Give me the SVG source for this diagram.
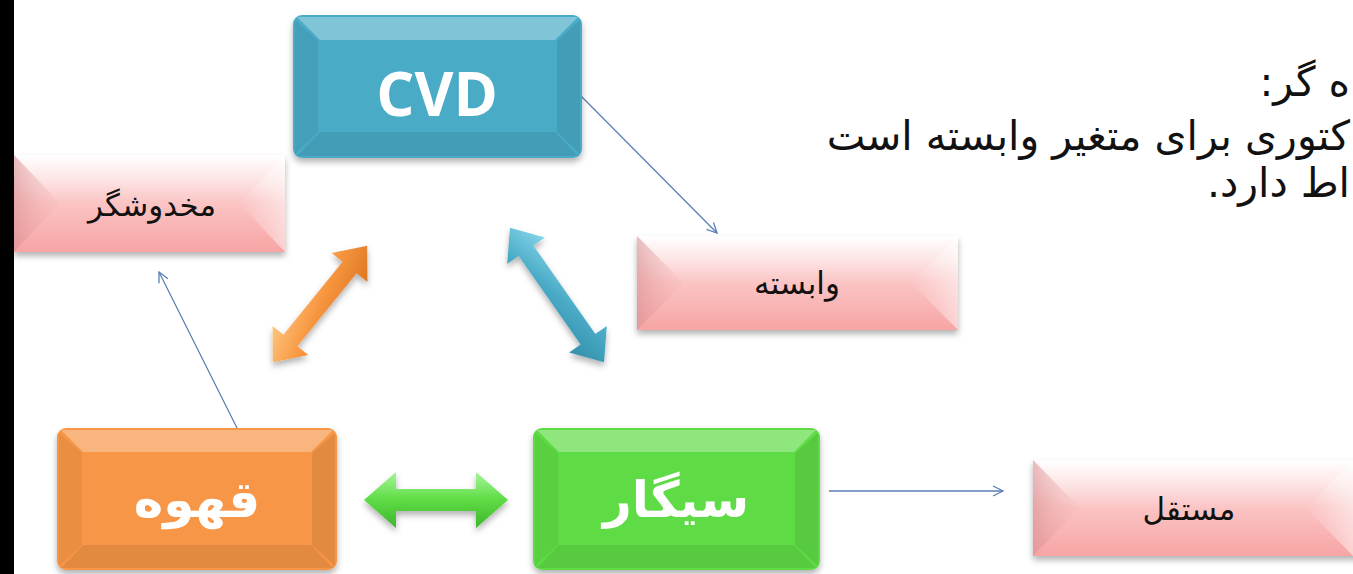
<svg xmlns="http://www.w3.org/2000/svg" width="1353" height="574" viewBox="0 0 1353 574">
<defs>
  <style>
    .pinkTxt{font-family:"DejaVu Sans",sans-serif;font-size:31px;fill:#111;}
    .boldTxt{font-family:"DejaVu Sans",sans-serif;font-size:50px;font-weight:bold;fill:#fff;}
    .cvdTxt{font-family:"Open Sans","Liberation Sans",sans-serif;font-size:60px;font-weight:bold;fill:#fff;}
    .body{font-family:"DejaVu Sans",sans-serif;font-size:41px;fill:#111;}
    .conn{stroke:#5b7fb8;stroke-width:1.3;fill:none;}
  </style>
  <filter id="sh" x="-10%" y="-10%" width="120%" height="130%">
    <feDropShadow dx="0" dy="4" stdDeviation="3" flood-color="#000" flood-opacity="0.3"/>
  </filter>
  <linearGradient id="pinkG" x1="0" y1="0" x2="0" y2="1">
    <stop offset="0" stop-color="#ffffff"/>
    <stop offset="0.25" stop-color="#fde5e5"/>
    <stop offset="0.5" stop-color="#fbc4c4"/>
    <stop offset="1" stop-color="#f7a4a4"/>
  </linearGradient>
  <linearGradient id="pinkL" x1="0" y1="0" x2="1" y2="0">
    <stop offset="0" stop-color="#d98f92" stop-opacity="0.6"/>
    <stop offset="1" stop-color="#f2b0b0" stop-opacity="0.1"/>
  </linearGradient>
  <linearGradient id="pinkR" x1="1" y1="0" x2="0" y2="0">
    <stop offset="0" stop-color="#ffffff" stop-opacity="0.5"/>
    <stop offset="1" stop-color="#ffffff" stop-opacity="0"/>
  </linearGradient>
  <linearGradient id="tealA" x1="0" y1="0" x2="1" y2="1">
    <stop offset="0" stop-color="#8fdcef"/>
    <stop offset="0.5" stop-color="#4aabc6"/>
    <stop offset="1" stop-color="#2f8aa6"/>
  </linearGradient>
  <linearGradient id="orangeA" x1="0" y1="0" x2="1" y2="1">
    <stop offset="0" stop-color="#ffd08c"/>
    <stop offset="0.5" stop-color="#f7963f"/>
    <stop offset="1" stop-color="#d8701e"/>
  </linearGradient>
  <linearGradient id="greenA" x1="0" y1="0" x2="0" y2="1">
    <stop offset="0" stop-color="#a6f59a"/>
    <stop offset="0.5" stop-color="#5edc45"/>
    <stop offset="1" stop-color="#3fb52c"/>
  </linearGradient>
  <marker id="open" viewBox="0 0 12 12" refX="11" refY="6" markerWidth="12" markerHeight="12" markerUnits="userSpaceOnUse" orient="auto">
    <path d="M1,1 L11,6 L1,11" fill="none" stroke="#5b7fb8" stroke-width="1.3"/>
  </marker>
</defs>

<rect x="0" y="0" width="1353" height="574" fill="#ffffff"/>
<rect x="0" y="0" width="14" height="574" fill="#000000"/>

<g id="text-block">
  <text class="body" x="1350" y="96" direction="rtl" text-anchor="start">ه گر:</text>
  <text class="body" x="1350" y="150" direction="rtl" text-anchor="start">کتوری برای متغیر وابسته است</text>
  <text class="body" x="1350" y="197" direction="rtl" text-anchor="start">اط دارد.</text>
</g>

<g id="connectors">
  <line class="conn" x1="580" y1="95" x2="717" y2="233" marker-end="url(#open)"/>
  <line class="conn" x1="238" y1="430" x2="159" y2="272" marker-end="url(#open)"/>
  <line class="conn" x1="829" y1="491" x2="1003" y2="491" marker-end="url(#open)"/>
  <g id="arrow-green" filter="url(#sh)">
    <polygon points="-72,0 -40,-28 -40,-11 40,-11 40,-28 72,0 40,28 40,11 -40,11 -40,28" transform="translate(436,500)" fill="url(#greenA)"/>
  </g>
  <g id="arrow-orange" filter="url(#sh)">
    <polygon points="-75,0 -47,-23 -47,-9 47,-9 47,-23 75,0 47,23 47,9 -47,9 -47,23" transform="translate(320,304) rotate(-51)" fill="url(#orangeA)"/>
  </g>
  <g id="arrow-blue" filter="url(#sh)">
    <polygon points="-82,0 -54,-23 -54,-9 54,-9 54,-23 82,0 54,23 54,9 -54,9 -54,23" transform="translate(557,295) rotate(55)" fill="url(#tealA)"/>
  </g>
</g>

<g id="node-cvd">
  <rect x="293" y="15" width="289" height="143" rx="9" fill="#4aabc6" filter="url(#sh)"/>
  <polygon points="297,17 578,17 555,40 320,40" fill="#ffffff" opacity="0.3"/>
  <polygon points="295,20 318,41 318,132 295,154" fill="#000" opacity="0.06"/>
  <polygon points="580,20 557,41 557,132 580,154" fill="#000" opacity="0.08"/>
  <polygon points="320,132 555,132 578,156 297,156" fill="#000" opacity="0.08"/>
  <text class="cvdTxt" x="437" y="116" text-anchor="middle">CVD</text>
</g>

<g id="node-confounder">
  <rect x="14" y="155" width="271" height="97" fill="url(#pinkG)" filter="url(#sh)"/>
  <polygon points="14,155 60,203 14,252" fill="url(#pinkL)"/>
  <polygon points="285,155 239,203 285,252" fill="url(#pinkR)"/>
  <text class="pinkTxt" x="152" y="216" text-anchor="middle" direction="rtl">مخدوشگر</text>
</g>

<g id="node-dependent">
  <rect x="637" y="236" width="321" height="94" fill="url(#pinkG)" filter="url(#sh)"/>
  <polygon points="637,236 684,283 637,330" fill="url(#pinkL)"/>
  <polygon points="958,236 911,283 958,330" fill="url(#pinkR)"/>
  <text class="pinkTxt" x="797" y="294" text-anchor="middle" direction="rtl">وابسته</text>
</g>

<g id="node-independent">
  <rect x="1033" y="460" width="330" height="96" fill="url(#pinkG)" filter="url(#sh)"/>
  <polygon points="1033,460 1080,508 1033,556" fill="url(#pinkL)"/>
  <polygon points="1353,460 1306,508 1353,556" fill="url(#pinkR)"/>
  <text class="pinkTxt" x="1189" y="520" text-anchor="middle" direction="rtl">مستقل</text>
</g>

<g id="node-coffee">
  <rect x="57" y="428" width="280" height="142" rx="9" fill="#f79646" filter="url(#sh)"/>
  <polygon points="61,430 333,430 311,452 83,452" fill="#ffffff" opacity="0.3"/>
  <polygon points="59,433 82,453 82,545 59,566" fill="#000" opacity="0.05"/>
  <polygon points="335,433 312,453 312,545 335,566" fill="#000" opacity="0.08"/>
  <polygon points="83,545 311,545 333,568 61,568" fill="#000" opacity="0.08"/>
  <text class="boldTxt" x="197" y="517" text-anchor="middle" direction="rtl">قهوه</text>
</g>

<g id="node-cigar">
  <rect x="533" y="428" width="287" height="142" rx="9" fill="#5edc45" filter="url(#sh)"/>
  <polygon points="537,430 816,430 794,452 559,452" fill="#ffffff" opacity="0.3"/>
  <polygon points="535,433 558,453 558,545 535,566" fill="#000" opacity="0.05"/>
  <polygon points="818,433 795,453 795,545 818,566" fill="#000" opacity="0.08"/>
  <polygon points="559,545 794,545 816,568 537,568" fill="#000" opacity="0.08"/>
  <text class="boldTxt" x="676" y="517" text-anchor="middle" direction="rtl">سیگار</text>
</g>
</svg>
